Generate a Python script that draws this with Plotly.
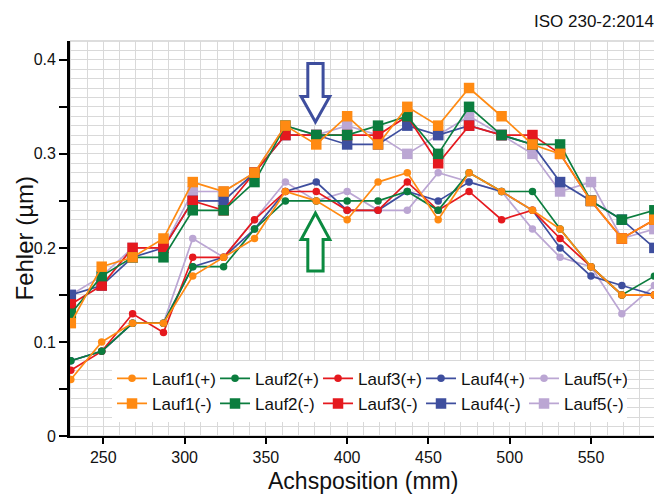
import plotly.graph_objects as go

# Measurement positions (mm)
positions = [230, 249, 268, 287, 305, 324, 343, 362, 381, 400, 419, 437, 456, 475, 495, 514, 531, 550, 569, 589]

# Errors (µm) – runs in + direction (circles)
lauf1_plus = [0.06, 0.10, 0.12, 0.12, 0.17, 0.19, 0.21, 0.26, 0.25, 0.23, 0.27, 0.28, 0.23, 0.28, 0.26, 0.24, 0.22, 0.18, 0.15, 0.15]
lauf2_plus = [0.08, 0.09, 0.12, 0.12, 0.18, 0.18, 0.22, 0.25, 0.25, 0.25, 0.25, 0.26, 0.24, 0.28, 0.26, 0.26, 0.22, 0.18, 0.15, 0.17]
lauf3_plus = [0.07, 0.09, 0.13, 0.11, 0.19, 0.19, 0.23, 0.26, 0.26, 0.24, 0.24, 0.27, 0.24, 0.26, 0.23, 0.24, 0.21, 0.18, 0.15, 0.15]
lauf4_plus = [0.08, 0.09, 0.12, 0.12, 0.18, 0.19, 0.22, 0.26, 0.27, 0.24, 0.24, 0.26, 0.25, 0.27, 0.26, 0.24, 0.20, 0.17, 0.16, 0.15]
lauf5_plus = [0.08, 0.09, 0.12, 0.12, 0.21, 0.19, 0.23, 0.27, 0.25, 0.26, 0.24, 0.24, 0.28, 0.27, 0.26, 0.22, 0.19, 0.18, 0.13, 0.16]

# Errors (µm) – runs in - direction (squares)
lauf1_minus = [0.12, 0.18, 0.19, 0.21, 0.27, 0.26, 0.28, 0.33, 0.31, 0.34, 0.31, 0.35, 0.33, 0.37, 0.34, 0.31, 0.30, 0.25, 0.21, 0.23]
lauf2_minus = [0.13, 0.17, 0.19, 0.19, 0.24, 0.24, 0.27, 0.33, 0.32, 0.32, 0.33, 0.34, 0.30, 0.35, 0.32, 0.31, 0.31, 0.25, 0.23, 0.24]
lauf3_minus = [0.14, 0.16, 0.20, 0.20, 0.25, 0.24, 0.28, 0.32, 0.32, 0.32, 0.32, 0.34, 0.29, 0.33, 0.32, 0.32, 0.30, 0.25, 0.21, 0.23]
lauf4_minus = [0.15, 0.16, 0.19, 0.20, 0.25, 0.25, 0.28, 0.32, 0.32, 0.31, 0.31, 0.33, 0.32, 0.33, 0.32, 0.31, 0.27, 0.25, 0.23, 0.20]
lauf5_minus = [0.15, 0.17, 0.20, 0.20, 0.26, 0.26, 0.28, 0.33, 0.32, 0.33, 0.32, 0.30, 0.32, 0.34, 0.32, 0.30, 0.26, 0.27, 0.21, 0.22]

run_names = ["Lauf1", "Lauf2", "Lauf3", "Lauf4", "Lauf5"]
run_colors = ["#FF8A12", "#0B7D3E", "#E5191E", "#3E4E9E", "#BBA6D3"]
plus_series = [lauf1_plus, lauf2_plus, lauf3_plus, lauf4_plus, lauf5_plus]
minus_series = [lauf1_minus, lauf2_minus, lauf3_minus, lauf4_minus, lauf5_minus]

y_tickvals = [0, 0.05, 0.1, 0.15, 0.2, 0.25, 0.3, 0.35, 0.4]
y_ticktext = ["0", "", "0.1", "", "0.2", "", "0.3", "", "0.4"]
x_tickvals = [250, 300, 350, 400, 450, 500, 550]

x_title = "Achsposition (mm)"
y_title = "Fehler (µm)"
corner_text = "ISO 230-2:2014"

FONT = "Liberation Sans, Arial, Helvetica, sans-serif"

fig = go.Figure()

# draw Lauf5 first so Lauf1 ends on top
for i in reversed(range(5)):
    fig.add_trace(go.Scatter(
        x=positions, y=minus_series[i], mode="lines+markers",
        name=f"{run_names[i]}(-)", legendrank=6 + i,
        line=dict(color=run_colors[i], width=1.7),
        marker=dict(symbol="square", size=10.5, color=run_colors[i]),
    ))
for i in reversed(range(5)):
    fig.add_trace(go.Scatter(
        x=positions, y=plus_series[i], mode="lines+markers",
        name=f"{run_names[i]}(+)", legendrank=1 + i,
        line=dict(color=run_colors[i], width=1.7),
        marker=dict(symbol="circle", size=7.5, color=run_colors[i]),
    ))

# arrow decorations (data coordinates)
ARROW_X = 380.5
SHAFT_HW = 4.7
HEAD_HW = 8.8

def arrow_path(tail, head_base, tip):
    x = ARROW_X
    return (f"M {x-SHAFT_HW},{tail} L {x+SHAFT_HW},{tail} L {x+SHAFT_HW},{head_base} "
            f"L {x+HEAD_HW},{head_base} L {x},{tip} L {x-HEAD_HW},{head_base} "
            f"L {x-SHAFT_HW},{head_base} Z")

fig.add_shape(type="path", xref="x", yref="y", path=arrow_path(0.396, 0.361, 0.334),
              line=dict(color="#3E4E9E", width=3), fillcolor="white")
fig.add_shape(type="path", xref="x", yref="y", path=arrow_path(0.1755, 0.209, 0.237),
              line=dict(color="#0B8A40", width=3), fillcolor="white")

fig.add_annotation(text=corner_text, xref="paper", yref="paper", x=1.0, y=1.0,
                   xanchor="right", yanchor="bottom", yshift=8, showarrow=False,
                   font=dict(family=FONT, size=17, color="#111111"))
fig.add_annotation(text=x_title, xref="paper", yref="paper", x=0.5, y=0,
                   xanchor="center", yanchor="middle", yshift=-45, showarrow=False,
                   font=dict(family=FONT, size=23, color="#111111"))
fig.add_annotation(text=y_title, xref="paper", yref="paper", x=0, y=0.5,
                   xanchor="center", yanchor="middle", xshift=-46, textangle=-90,
                   showarrow=False, font=dict(family=FONT, size=24, color="#111111"))

# page body has an 8px margin: figure is shrunk so the plot lands where the reference has it
fig.update_layout(
    width=654, height=487,
    margin=dict(l=62, r=6, t=33, b=59, autoexpand=False),
    paper_bgcolor="white", plot_bgcolor="white",
    font=dict(family=FONT, color="#111111"),
    showlegend=True,
    legend=dict(
        orientation="h", x=0.0717, xanchor="left", y=0.036, yanchor="bottom",
        bgcolor="white", borderwidth=0,
        font=dict(family=FONT, size=17, color="#111111"),
        entrywidth=58, entrywidthmode="pixels", itemwidth=30,
        traceorder="normal",
    ),
    xaxis=dict(
        range=[229.5, 590], tickvals=x_tickvals, ticks="outside", ticklen=6,
        tickwidth=1.5, tickcolor="black", automargin=False,
        showline=True, linecolor="black", linewidth=2.2, mirror=False,
        showgrid=True, gridcolor="#D9D9D9", gridwidth=1,
        minor=dict(dtick=10, tick0=0, showgrid=True, gridcolor="#D9D9D9", gridwidth=1),
        tickfont=dict(family=FONT, size=16, color="#111111"),
        zeroline=False,
    ),
    yaxis=dict(
        range=[0, 0.42], tickvals=y_tickvals, ticktext=y_ticktext,
        ticks="outside", ticklen=8, tickwidth=1.5, tickcolor="black", automargin=False,
        showline=True, linecolor="black", linewidth=2.7,
        showgrid=True, gridcolor="#D9D9D9", gridwidth=1,
        minor=dict(dtick=0.01, tick0=0, showgrid=True, gridcolor="#D9D9D9", gridwidth=1),
        tickfont=dict(family=FONT, size=16, color="#111111"),
        zeroline=False,
    ),
)

# light border on top/right like the reference
fig.add_shape(type="rect", xref="paper", yref="paper", x0=0, y0=0, x1=1, y1=1,
              line=dict(color="#BBBBBB", width=1), fillcolor="rgba(0,0,0,0)", layer="below")

fig.write_html("out.html")
